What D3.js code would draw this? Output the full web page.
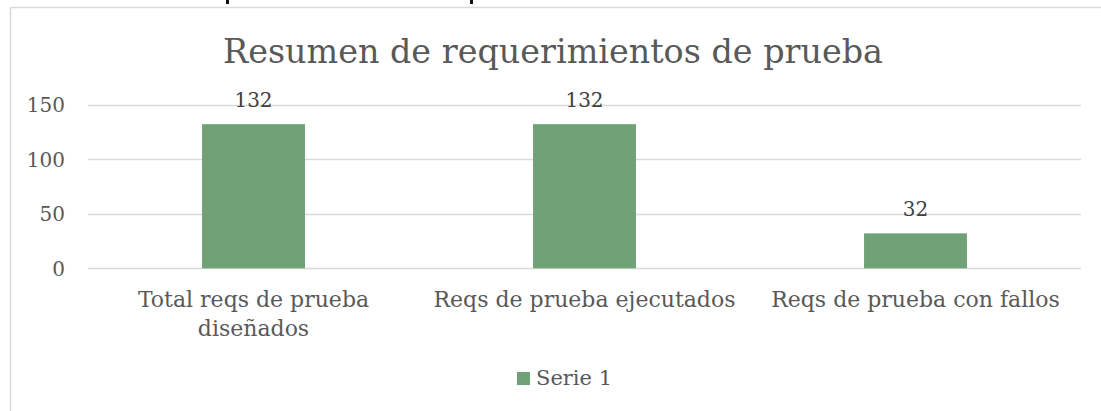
<!DOCTYPE html>
<html>
<head>
<meta charset="utf-8">
<script src="https://cdn.jsdelivr.net/npm/d3@7"></script>
<style>
  html, body { margin: 0; padding: 0; background: #fff; }
  svg { display: block; }
  text { font-family: "DejaVu Serif", "Liberation Serif", serif; }
</style>
</head>
<body>
<svg id="chart" width="1101" height="411"></svg>
<script>
// Chart data
const categories = ["Total reqs de prueba diseñados", "Reqs de prueba ejecutados", "Reqs de prueba con fallos"];
const categoryLines = [["Total reqs de prueba", "diseñados"], ["Reqs de prueba ejecutados"], ["Reqs de prueba con fallos"]];
const serie1 = [132, 132, 32];
const yTicks = [0, 50, 100, 150];
const seriesName = "Serie 1";
const chartTitle = "Resumen de requerimientos de prueba";

const svg = d3.select("#chart");
const barColor = "#71a277";
const textGray = "#595959";
const gridGray = "#d9d9d9";

// Chart area frame
svg.append("rect")
  .attr("x", 10.5).attr("y", 7.5)
  .attr("width", 1200).attr("height", 500)
  .attr("fill", "#fff").attr("stroke", gridGray).attr("stroke-width", 1.5);

// Edges of the document heading above the chart
svg.append("g").selectAll("rect").data([226, 470]).join("rect")
  .attr("x", d => d).attr("y", 0).attr("width", 3).attr("height", 4)
  .attr("fill", "#111");

const plot = { left: 88, right: 1081, top: 104.5, bottom: 268.3 };

const x = d3.scaleBand()
  .domain(categories)
  .range([plot.left, plot.right])
  .paddingInner(0.689)
  .paddingOuter(0.3445);

const y = d3.scaleLinear()
  .domain([0, 150])
  .range([plot.bottom, plot.top]);

// Title
svg.append("text")
  .attr("x", 553).attr("y", 63)
  .attr("text-anchor", "middle")
  .attr("font-size", 34)
  .attr("fill", textGray)
  .attr("textLength", 660)
  .attr("lengthAdjust", "spacingAndGlyphs")
  .text(chartTitle);

// Gridlines
svg.append("g").selectAll("line").data(yTicks).join("line")
  .attr("x1", plot.left).attr("x2", plot.right)
  .attr("y1", d => Math.round(y(d)) + 0.5).attr("y2", d => Math.round(y(d)) + 0.5)
  .attr("stroke", gridGray).attr("stroke-width", 1.5);

// Y axis labels
const yAxis = d3.axisLeft(y).tickValues(yTicks).tickSize(0).tickPadding(0);
const yg = svg.append("g").attr("transform", `translate(65,0)`).call(yAxis);
yg.select(".domain").remove();
yg.selectAll("text")
  .attr("font-family", "DejaVu Serif, serif")
  .attr("font-size", 20)
  .attr("fill", textGray)
  .attr("dy", "0.35em");

// Bars
svg.append("g").selectAll("rect").data(serie1).join("rect")
  .attr("x", (d, i) => x(categories[i]))
  .attr("width", x.bandwidth())
  .attr("y", d => y(d))
  .attr("height", d => y(0) - y(d))
  .attr("fill", barColor);

// Data labels
svg.append("g").selectAll("text").data(serie1).join("text")
  .attr("x", (d, i) => x(categories[i]) + x.bandwidth() / 2)
  .attr("y", d => y(d) - 17)
  .attr("text-anchor", "middle")
  .attr("font-size", 20)
  .attr("fill", "#404040")
  .text(d => d);

// Category labels
const xg = svg.append("g");
categoryLines.forEach((lines, i) => {
  const cx = x(categories[i]) + x.bandwidth() / 2;
  const t = xg.append("text")
    .attr("x", cx)
    .attr("y", 307)
    .attr("text-anchor", "middle")
    .attr("font-size", 22)
    .attr("fill", textGray);
  lines.forEach((ln, j) => {
    t.append("tspan")
      .attr("x", cx)
      .attr("dy", j === 0 ? 0 : 29)
      .text(ln);
  });
});

// Legend
const lg = svg.append("g");
lg.append("rect").attr("x", 517).attr("y", 372).attr("width", 13).attr("height", 13).attr("fill", barColor);
lg.append("text").attr("x", 536).attr("y", 385)
  .attr("font-size", 21).attr("fill", textGray)
  .text(seriesName);
</script>
</body>
</html>
